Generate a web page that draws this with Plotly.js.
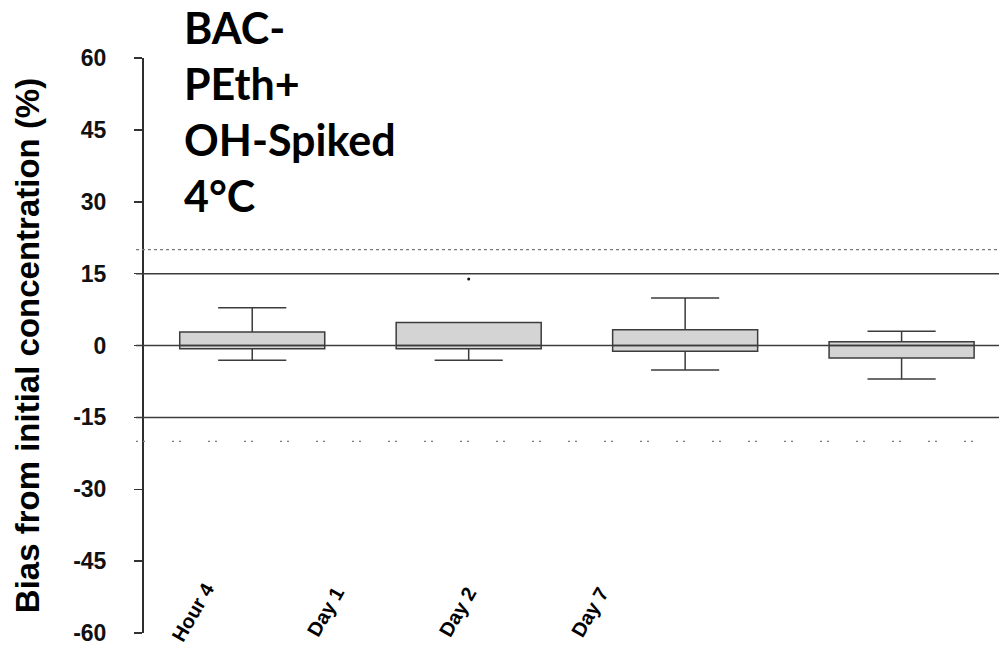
<!DOCTYPE html>
<html><head><meta charset="utf-8">
<script src="https://cdn.plot.ly/plotly-3.0.1.min.js"></script>
<style>html,body{margin:0;padding:0;background:#fff}</style>
</head><body><div id="chart" style="width:999px;height:651px"></div>
<script>
// ---- data ----
const categories = ['Hour 4', 'Day 1', 'Day 2', 'Day 7'];
const q1 = [-0.7, -0.7, -1.2, -2.6];
const median = [0, 0, 0, 0];
const q3 = [2.8, 4.8, 3.3, 0.8];
const lowerWhisker = [-3.1, -3.1, -5.1, -7.0];
const upperWhisker = [7.9, 4.8, 9.9, 3.0];
const outlierCategory = ['Day 1'];
const outlierValue = [13.9];
const solidLimits = [15, 0, -15];
const dottedLimits = [20, -20];
const yTicks = [60, 45, 30, 15, 0, -15, -30, -45, -60];
const titleLines = ['BAC-', 'PEth+', 'OH-Spiked', '4°C'];
const yTitle = 'Bias from initial concentration (%)';

// ---- layout geometry ----
const W = 999, H = 651;
const mL = 144, mR = 0, mT = 58, mB = 18;
const plotW = W - mL - mR, plotH = H - mT - mB;
const px2x = p => (p - mL) / plotW;
const px2y = p => (H - mB - p) / plotH;
const labelStartPx = 193, labelStepPx = 132.3, labelYPx = 612;

const lineColor = '#3c3c3c';

const traces = [
  {
    type: 'box', x: categories, q1: q1, median: median, q3: q3,
    lowerfence: lowerWhisker, upperfence: upperWhisker,
    width: 0.67, whiskerwidth: 0.47, boxpoints: false,
    fillcolor: '#d4d4d4', line: {color: lineColor, width: 1.5},
    hoverinfo: 'skip', showlegend: false
  },
  {
    type: 'scatter', mode: 'markers', x: outlierCategory, y: outlierValue,
    marker: {color: '#111', size: 3}, hoverinfo: 'skip', showlegend: false
  }
];

const shapes = [];
solidLimits.forEach(v => shapes.push({
  type: 'line', xref: 'paper', yref: 'y', x0: px2x(136), x1: 1, y0: v, y1: v,
  line: {color: lineColor, width: 1.5}, layer: 'above'
}));
shapes.push({
  type: 'line', xref: 'paper', yref: 'y', x0: px2x(136), x1: 1, y0: dottedLimits[0], y1: dottedLimits[0],
  line: {color: '#7a7a7a', width: 1.2, dash: 'dot'}, layer: 'above'
});
shapes.push({
  type: 'line', xref: 'paper', yref: 'y', x0: px2x(136), x1: 1, y0: dottedLimits[1], y1: dottedLimits[1],
  line: {color: '#7a7a7a', width: 1.2, dash: '2px,5px,2px,27px'}, layer: 'above'
});

const annotations = [];
categories.forEach((c, i) => annotations.push({
  xref: 'paper', yref: 'paper', x: px2x(labelStartPx + i * labelStepPx), y: px2y(labelYPx),
  xanchor: 'center', yanchor: 'middle', text: c, showarrow: false, textangle: -60,
  font: {family: 'Liberation Sans, Arial, sans-serif', size: 20, color: '#000', weight: 'bold'}
}));
annotations.push({
  xref: 'paper', yref: 'paper', x: px2x(182), y: px2y(0), xanchor: 'left', yanchor: 'top',
  align: 'left', showarrow: false, text: titleLines.join('<br>'),
  font: {family: 'Lato, Open Sans, sans-serif', size: 43, color: '#000', weight: 'bold'}
});

const layout = {
  width: W, height: H, margin: {l: mL, r: mR, t: mT, b: mB, pad: 0},
  paper_bgcolor: '#fff', plot_bgcolor: '#fff', showlegend: false,
  xaxis: {
    type: 'category', range: [-0.5, 3.45], showticklabels: false, showline: false,
    showgrid: false, zeroline: false, ticks: ''
  },
  yaxis: {
    range: [-60, 60], tickvals: yTicks, ticktext: yTicks.map(String),
    showline: true, linecolor: '#2e2e2e', linewidth: 2, ticks: 'outside', ticklen: 8,
    tickcolor: '#333333', tickwidth: 1.5, showgrid: false, zeroline: false,
    ticklabelstandoff: 23,
    tickfont: {family: 'Liberation Sans, Arial, sans-serif', size: 23, color: '#111', weight: 'bold'},
    title: {text: yTitle, standoff: 24,
      font: {family: 'Liberation Sans, Arial, sans-serif', size: 33, color: '#000', weight: 'bold'}}
  },
  shapes: shapes, annotations: annotations
};

Plotly.newPlot('chart', traces, layout, {displayModeBar: false, staticPlot: true});
</script></body></html>
